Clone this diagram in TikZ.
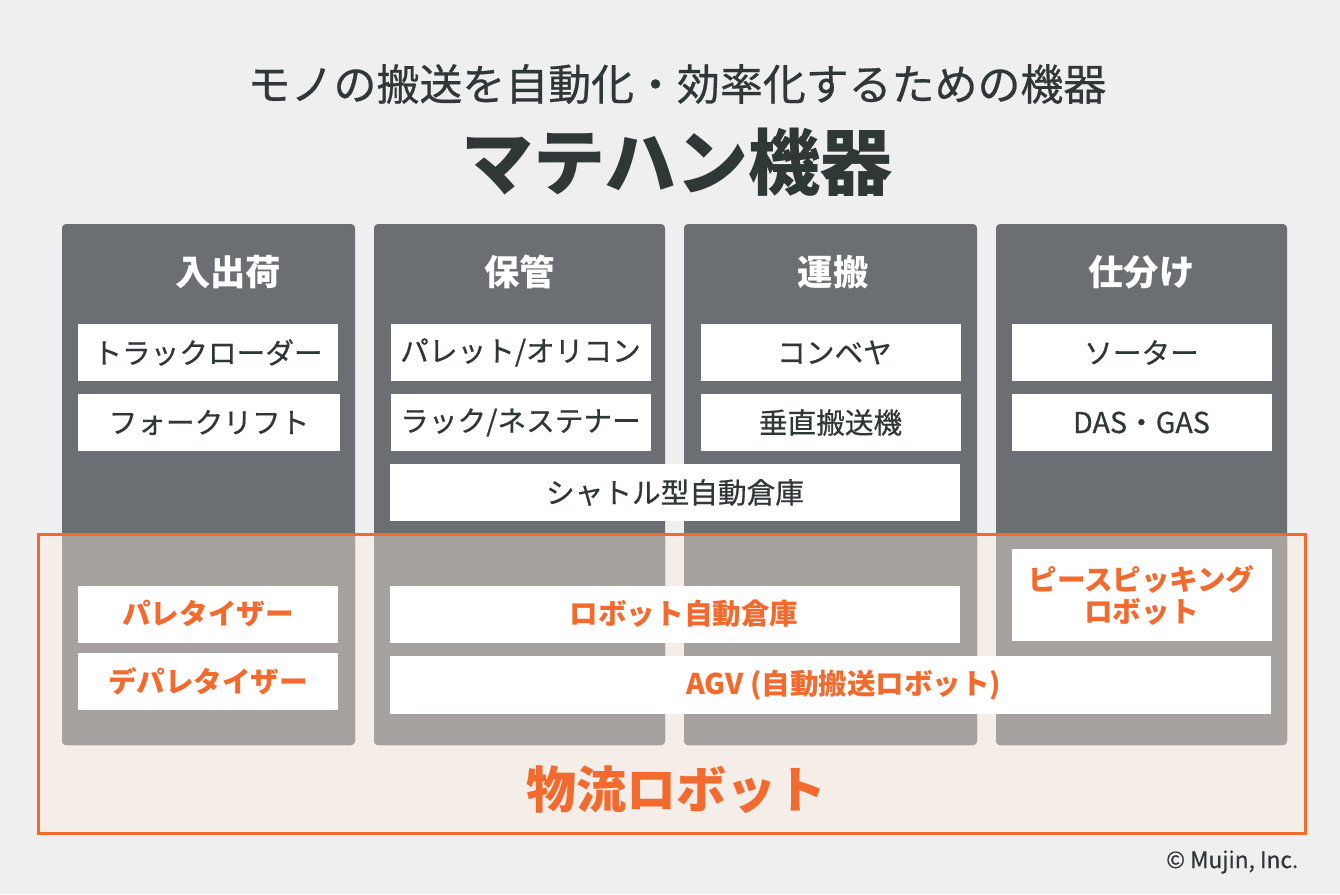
\documentclass[tikz,border=0pt]{standalone}
\usepackage{fontspec}
\setmainfont{Noto Sans CJK JP}
\newfontfamily\medfont{Noto Sans CJK JP}[FakeBold=0.6]
\definecolor{bg}{HTML}{EFEFEF}
\definecolor{colDark}{HTML}{6B6F73}
\definecolor{colLight}{HTML}{A6A29F}
\definecolor{orng}{HTML}{F26A2E}
\definecolor{orngFill}{HTML}{F5EEE8}
\definecolor{txtDark}{HTML}{2F3836}
\begin{document}
\begin{tikzpicture}[x=0.75pt,y=-0.75pt,
  wbox/.style={fill=white, inner sep=0pt, minimum width=195pt, minimum height=42.75pt, text=txtDark, font=\medfont\fontsize{21.5}{26}\selectfont},
  obox/.style={wbox, text=orng, font=\fontsize{21.4}{25}\selectfont\bfseries},
  head/.style={text=white, font=\fontsize{26.5}{30}\selectfont\bfseries},
  column/.style={fill=colDark, rounded corners=3pt},
  lower/.style={fill=colLight, rounded corners=3pt}]
\fill[bg] (0,0) rectangle (1340,894);
\useasboundingbox (0,0) rectangle (1340,894);
% orange area background
\fill[orngFill] (38,534) rectangle (1305,833);
% columns
\foreach \a/\b in {62/355,374/665,684/977,996/1287}{
  \fill[column] (\a,224) rectangle (\b,745);
  \fill[lower] (\a,535) rectangle (\b,745);
  \fill[colLight] (\a,535) rectangle (\b,550);
}
\draw[orng, line width=2.25pt] (38,534) rectangle (1305,833);
% titles
\node[text=txtDark, font=\medfont\fontsize{32.2}{38}\selectfont] (sub) at (677,84) {モノの搬送を自動化・効率化するための機器};
\node[text=txtDark, font=\fontsize{54}{60}\selectfont\bfseries] (main) at (677,162) {マテハン機器};
% headers
\node[head] (h1) at (228,272) {入出荷};
\node[head] (h2) at (519.5,272) {保管};
\node[head] (h3) at (833,272) {運搬};
\node[head] (h4) at (1141.5,272) {仕分け};
% white boxes
\node[wbox] (b11) at (208,352.5) {トラックローダー};
\node[wbox, minimum width=196.5pt] (b12) at (209,422.5) {フォークリフト};
\node[wbox] (b21) at (520.5,352.5) {パレット/オリコン};
\node[wbox] (b22) at (520.5,422.5) {ラック/ネステナー};
\node[wbox, minimum width=427.5pt] (b23) at (675,492.5) {シャトル型自動倉庫};
\node[wbox] (b31) at (830.5,352.5) {\hspace*{6pt}コンベヤ};
\node[wbox] (b32) at (830.5,422.5) {垂直搬送機};
\node[wbox] (b41) at (1141.5,352.5) {ソーター};
\node[wbox] (b42) at (1141.5,422.5) {DAS・GAS};
% orange boxes
\node[obox] (r11) at (208,614) {パレタイザー};
\node[obox] (r12) at (208,681) {デパレタイザー};
\node[obox, minimum width=427.5pt] (r21) at (675,614) {\hspace*{13.5pt}ロボット自動倉庫};
\node[obox, minimum height=69pt, align=center, font=\fontsize{21.4}{24}\selectfont\bfseries] (r41) at (1141.5,595) {ピースピッキング\\ロボット};
\node[obox, minimum width=660.75pt, minimum height=43.5pt] (agv) at (830.5,685) {\hspace*{20pt}AGV (自動搬送ロボット)};
% bottom label
\node[text=orng, font=\fontsize{37.5}{42}\selectfont\bfseries] (robot) at (676,790) {物流ロボット};
\node[text=txtDark, anchor=east, font=\medfont\fontsize{17}{20}\selectfont] (copy) at (1303,862) {© Mujin, Inc.};
\end{tikzpicture}
\end{document}
